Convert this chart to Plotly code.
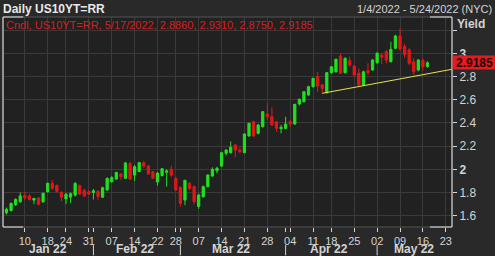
import pandas as pd
import plotly.graph_objects as go

# ---------------- data ----------------
holidays = ["2022-01-17", "2022-02-21", "2022-04-15"]
calendar = [d.strftime("%Y-%m-%d") for d in pd.bdate_range("2022-01-04", "2022-05-31")
            if d.strftime("%Y-%m-%d") not in holidays]
pos = {d: i for i, d in enumerate(calendar)}

opens = [1.625, 1.645, 1.695, 1.720, 1.775, 1.770, 1.735, 1.753, 1.720, 1.807,
         1.879, 1.860, 1.800, 1.745, 1.760, 1.778, 1.858, 1.820, 1.807, 1.800,
         1.810, 1.759, 1.822, 1.893, 1.916, 1.960, 1.922, 2.050, 1.950, 1.980,
         2.057, 2.028, 1.980, 1.890, 1.945, 1.975, 2.000, 1.922, 1.845, 1.735,
         1.880, 1.850, 1.680, 1.764, 1.850, 1.942, 1.988, 2.028, 2.138, 2.143,
         2.210, 2.166, 2.143, 2.287, 2.410, 2.310, 2.367, 2.477, 2.453, 2.410,
         2.350, 2.353, 2.410, 2.390, 2.563, 2.583, 2.640, 2.712, 2.798, 2.727,
         2.660, 2.833, 2.840, 2.977, 2.833, 2.936, 2.890, 2.828, 2.727, 2.850,
         2.856, 2.919, 2.985, 3.014, 2.928, 3.043, 3.150, 3.060, 3.030, 2.928,
         2.856, 2.940, 2.886]
highs = [1.670, 1.715, 1.750, 1.800, 1.805, 1.785, 1.755, 1.760, 1.800, 1.885,
         1.908, 1.870, 1.810, 1.795, 1.800, 1.888, 1.870, 1.830, 1.820, 1.830,
         1.820, 1.850, 1.930, 1.942, 1.975, 1.966, 2.062, 2.065, 2.037, 2.065,
         2.074, 2.035, 1.985, 1.975, 2.010, 2.000, 2.030, 1.936, 1.850, 1.910,
         1.890, 1.860, 1.790, 1.860, 1.955, 2.017, 2.022, 2.150, 2.172, 2.240,
         2.215, 2.190, 2.310, 2.400, 2.420, 2.390, 2.500, 2.569, 2.534, 2.415,
         2.382, 2.453, 2.425, 2.565, 2.610, 2.675, 2.720, 2.790, 2.841, 2.735,
         2.840, 2.890, 2.955, 3.000, 2.965, 2.971, 2.900, 2.870, 2.850, 2.914,
         2.950, 3.010, 3.005, 3.030, 3.100, 3.160, 3.218, 3.080, 3.045, 2.960,
         2.950, 2.955, 2.931]
lows = [1.610, 1.635, 1.685, 1.710, 1.735, 1.730, 1.700, 1.690, 1.710, 1.800,
        1.820, 1.800, 1.725, 1.700, 1.710, 1.764, 1.780, 1.760, 1.780, 1.740,
        1.735, 1.755, 1.815, 1.885, 1.910, 1.908, 1.915, 1.910, 1.900, 1.975,
        2.010, 1.955, 1.915, 1.860, 1.940, 1.850, 1.935, 1.815, 1.678, 1.690,
        1.820, 1.700, 1.660, 1.755, 1.845, 1.935, 1.965, 2.020, 2.120, 2.135,
        2.104, 2.138, 2.140, 2.280, 2.280, 2.300, 2.360, 2.425, 2.375, 2.324,
        2.310, 2.345, 2.367, 2.385, 2.550, 2.575, 2.635, 2.705, 2.669, 2.655,
        2.655, 2.825, 2.835, 2.820, 2.825, 2.885, 2.800, 2.720, 2.720, 2.813,
        2.850, 2.910, 2.908, 2.915, 2.920, 3.035, 3.025, 2.960, 2.900, 2.813,
        2.845, 2.850, 2.875]
closes = [1.655, 1.705, 1.740, 1.770, 1.755, 1.740, 1.748, 1.698, 1.793, 1.879,
          1.836, 1.810, 1.760, 1.785, 1.790, 1.879, 1.787, 1.772, 1.787, 1.815,
          1.765, 1.841, 1.922, 1.928, 1.974, 1.936, 2.055, 1.915, 2.022, 2.057,
          2.028, 1.960, 1.922, 1.968, 2.005, 1.985, 1.950, 1.822, 1.707, 1.905,
          1.835, 1.720, 1.778, 1.850, 1.951, 2.000, 2.009, 2.143, 2.166, 2.190,
          2.166, 2.152, 2.304, 2.397, 2.287, 2.382, 2.497, 2.453, 2.382, 2.353,
          2.362, 2.390, 2.390, 2.560, 2.603, 2.669, 2.712, 2.784, 2.718, 2.698,
          2.833, 2.884, 2.948, 2.828, 2.957, 2.900, 2.813, 2.727, 2.841, 2.833,
          2.942, 3.000, 2.966, 2.942, 3.034, 3.150, 3.037, 2.990, 2.914, 2.840,
          2.942, 2.885, 2.9185]
dates = calendar[:len(opens)]

trend_dates = ["2022-04-13", "2022-05-25"]
trend_values = [2.655, 2.867]

tick_dates = ["2022-01-10", "2022-01-18", "2022-01-24", "2022-01-31", "2022-02-07",
              "2022-02-14", "2022-02-22", "2022-02-28", "2022-03-07", "2022-03-14",
              "2022-03-21", "2022-03-28", "2022-04-04", "2022-04-11", "2022-04-18",
              "2022-04-25", "2022-05-02", "2022-05-09", "2022-05-16", "2022-05-23"]
tick_labels = [d[-2:] for d in tick_dates]
month_starts = ["2022-02-01", "2022-03-01", "2022-04-01", "2022-05-02"]
month_labels = ["Jan 22", "Feb 22", "Mar 22", "Apr 22", "May 22"]
month_bounds = [("2022-01-04", "2022-01-31"), ("2022-02-01", "2022-02-28"),
                ("2022-03-01", "2022-03-31"), ("2022-04-01", "2022-04-29"),
                ("2022-05-02", "2022-05-24")]
y_ticks = [1.6, 1.8, 2.0, 2.2, 2.4, 2.6, 2.8, 3.0, 3.2]
y_labels = ["1.6", "1.8", "<b>2</b>", "2.2", "2.4", "2.6", "2.8", "<b>3</b>", ""]

symbol = "US10YT=RR"
last_date = "5/17/2022"

# ---------------- figure ----------------
FONT = "Liberation Sans, Arial, sans-serif"
GREEN = "#22e022"
RED = "#e01818"
TXT = "#d4d4d4"
WHITE = "#e8e8e8"

x_idx = [pos[d] for d in dates]

fig = go.Figure()
fig.add_trace(go.Candlestick(
    x=x_idx, open=opens, high=highs, low=lows, close=closes,
    increasing=dict(line=dict(color=GREEN, width=1), fillcolor=GREEN),
    decreasing=dict(line=dict(color=RED, width=1), fillcolor=RED),
    showlegend=False, hoverinfo="skip"))
fig.add_trace(go.Scatter(
    x=[pos[d] for d in trend_dates], y=trend_values, mode="lines",
    line=dict(color="#e6e64c", width=1), showlegend=False, hoverinfo="skip"))

annotations = []
# header
annotations.append(dict(text="<b>Daily " + symbol + "</b>", xref="paper", yref="paper",
                        x=0, y=1, xanchor="left", yanchor="middle", xshift=-2, yshift=8,
                        showarrow=False, font=dict(size=12, color=WHITE, family=FONT)))
annotations.append(dict(text="1/4/2022 - 5/24/2022 (NYC)", xref="paper", yref="paper",
                        x=1, y=1, xanchor="right", yanchor="middle", xshift=42, yshift=8,
                        showarrow=False, font=dict(size=11, color=TXT, family=FONT)))
legend_txt = "Cndl, {}, {}, {:.4f}, {:.4f}, {:.4f}, {:.4f}".format(
    symbol, last_date, opens[-1], highs[-1], lows[-1], closes[-1])
annotations.append(dict(text=legend_txt, xref="paper", yref="paper", x=0, y=1,
                        xanchor="left", yanchor="middle", xshift=1, yshift=-8,
                        showarrow=False, font=dict(size=11, color="#d42020", family=FONT)))
annotations.append(dict(text="<b>Yield</b>", xref="paper", yref="paper", x=1, y=1,
                        xanchor="left", yanchor="middle", xshift=3, yshift=-7,
                        showarrow=False, font=dict(size=12, color=TXT, family=FONT)))
# last price box
annotations.append(dict(text="<b>{:.4f}</b>".format(closes[-1]), xref="paper", yref="y",
                        x=1, y=closes[-1], xanchor="left", yanchor="middle",
                        showarrow=False, bgcolor="#e21c1c", borderpad=0, width=43, height=13,
                        font=dict(size=12, color="#220000", family=FONT)))
# month labels
for lab, (a, b) in zip(month_labels, month_bounds):
    annotations.append(dict(text="<b>" + lab + "</b>", xref="x", yref="paper",
                            x=(pos[a] + pos[b]) / 2, y=0, xanchor="center", yanchor="top",
                            yshift=-14, showarrow=False, borderpad=0,
                            font=dict(size=12, color=TXT, family=FONT)))

shapes = []
# frame: gray, then white sides and corner segments
shapes.append(dict(type="rect", xref="paper", yref="paper", x0=0, x1=1, y0=0, y1=1,
                   line=dict(color="#555555", width=1), layer="above"))
for xv in (0, 1):
    shapes.append(dict(type="line", xref="paper", yref="paper", x0=xv, x1=xv, y0=0, y1=1,
                       line=dict(color=WHITE, width=1), layer="above"))
for (x0, x1) in ((0, 0.045), (0.951, 1)):
    for yv in (0, 1):
        shapes.append(dict(type="line", xref="paper", yref="paper", x0=x0, x1=x1, y0=yv, y1=yv,
                           line=dict(color=WHITE, width=1), layer="above"))
# month separators
for m in month_starts:
    shapes.append(dict(type="line", xref="x", yref="paper", x0=pos[m], x1=pos[m],
                       y0=-0.086, y1=-0.135, line=dict(color=TXT, width=1)))

fig.update_layout(
    width=495, height=256,
    margin=dict(l=3, r=43, t=17, b=29, pad=0),
    paper_bgcolor="#292929", plot_bgcolor="#212121",
    font=dict(family=FONT, color=TXT),
    showlegend=False, hovermode=False,
    annotations=annotations, shapes=shapes,
    xaxis=dict(range=[-0.765, 97.36], rangeslider=dict(visible=False),
               tickmode="array", tickvals=[pos[d] for d in tick_dates], ticktext=tick_labels,
               ticks="outside", ticklen=4, tickcolor=TXT, tickfont=dict(size=11, color=TXT),
               showgrid=True, gridcolor="#3a3a3a", gridwidth=1, zeroline=False,
               showline=False, automargin=False,
               minor=dict(tickmode="array", tickvals=[pos[m] for m in month_starts],
                          ticks="outside", ticklen=4, tickcolor=TXT, showgrid=False)),
    yaxis=dict(range=[1.5026, 3.313], side="right", tickmode="array",
               tickvals=y_ticks, ticktext=y_labels, ticks="outside", ticklen=4,
               tickcolor=TXT, tickfont=dict(size=12, color=TXT),
               showgrid=True, gridcolor="#3a3a3a", gridwidth=1, zeroline=False,
               showline=False, automargin=False),
)

fig.write_html("out.html", config={"displayModeBar": False})
